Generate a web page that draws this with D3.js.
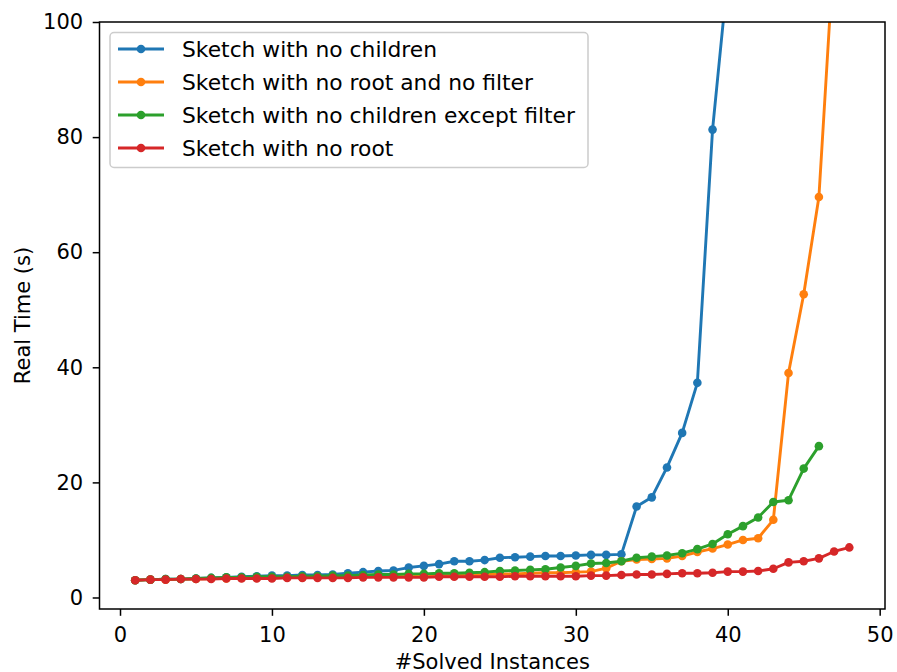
<!DOCTYPE html>
<html>
<head>
<meta charset="utf-8">
<script src="https://cdn.jsdelivr.net/npm/d3@7"></script>
<style>
  body { margin: 0; background: #fff; }
  svg { font-family: "DejaVu Sans", sans-serif; }
</style>
</head>
<body>
<div id="chart"></div>
<script>
// solved instance index (x) for each series
const noChildren = [3.0, 3.1, 3.2, 3.2, 3.3, 3.4, 3.5, 3.6, 3.7, 3.8, 3.8, 3.9, 3.9, 4.0, 4.2, 4.4, 4.6, 4.7, 5.2, 5.5,
  5.8, 6.3, 6.3, 6.5, 6.9, 7.0, 7.1, 7.2, 7.2, 7.3, 7.4, 7.4, 7.5, 15.8, 17.4, 22.6, 28.6, 37.3, 81.3, 108];
const noRootNoFilter = [3.0, 3.1, 3.1, 3.2, 3.2, 3.3, 3.3, 3.4, 3.4, 3.5, 3.5, 3.5, 3.6, 3.6, 3.6, 3.7, 3.7, 3.8, 3.8, 3.8,
  3.9, 3.9, 4.0, 4.0, 4.1, 4.1, 4.2, 4.3, 4.3, 4.4, 4.5, 5.1, 6.3, 6.6, 6.7, 6.8, 7.2, 7.9, 8.5, 9.2,
  10.0, 10.3, 13.5, 39.0, 52.7, 69.6, 113];
const noChildrenExceptFilter = [3.0, 3.1, 3.2, 3.2, 3.3, 3.4, 3.5, 3.5, 3.6, 3.6, 3.6, 3.7, 3.7, 3.8, 3.8, 3.9, 4.0, 4.0, 4.1, 4.1,
  4.2, 4.2, 4.3, 4.4, 4.6, 4.7, 4.8, 4.9, 5.2, 5.5, 5.9, 6.0, 6.3, 6.9, 7.1, 7.3, 7.7, 8.4, 9.3, 11.0,
  12.4, 13.9, 16.6, 16.9, 22.4, 26.3];
const noRoot = [3.0, 3.1, 3.1, 3.2, 3.2, 3.2, 3.3, 3.3, 3.3, 3.3, 3.4, 3.4, 3.4, 3.4, 3.4, 3.5, 3.5, 3.5, 3.5, 3.5,
  3.6, 3.6, 3.6, 3.6, 3.6, 3.7, 3.7, 3.7, 3.7, 3.7, 3.8, 3.8, 3.9, 4.0, 4.0, 4.1, 4.2, 4.2, 4.3, 4.5,
  4.5, 4.6, 5.0, 6.1, 6.3, 6.8, 8.0, 8.7];

const seriesNames = ["Sketch with no children", "Sketch with no root and no filter",
  "Sketch with no children except filter", "Sketch with no root"];
const seriesValues = [noChildren, noRootNoFilter, noChildrenExceptFilter, noRoot];
const colors = ["#1f77b4", "#ff7f0e", "#2ca02c", "#d62728"];
const xTicks = [0, 10, 20, 30, 40, 50];
const yTicks = [0, 20, 40, 60, 80, 100];

const width = 897, height = 672;
const margin = { top: 22, right: 12, bottom: 63, left: 99.5 };
const fs = 21;
const legendFs = 21.8;

const svg = d3.select("#chart").append("svg")
  .attr("width", width)
  .attr("height", height);

const x = d3.scaleLinear().domain([-1.35, 50.35]).range([margin.left, width - margin.right]);
const y = d3.scaleLinear().domain([-2.0, 100]).range([height - margin.bottom, margin.top]);

svg.append("defs").append("clipPath").attr("id", "plot-clip")
  .append("rect")
  .attr("x", margin.left).attr("y", margin.top)
  .attr("width", x.range()[1] - margin.left)
  .attr("height", y.range()[0] - margin.top);

// axes
const xAxis = svg.append("g")
  .attr("transform", `translate(0,${y.range()[0]})`)
  .call(d3.axisBottom(x).tickValues(xTicks).tickSize(6.8).tickPadding(11).tickFormat(d3.format("d")));
const yAxis = svg.append("g")
  .attr("transform", `translate(${margin.left},0)`)
  .call(d3.axisLeft(y).tickValues(yTicks).tickSize(6.8).tickPadding(9.5).tickFormat(d3.format("d")));

[xAxis, yAxis].forEach(a => {
  a.select(".domain").remove();
  a.selectAll(".tick line").attr("stroke", "#000").attr("stroke-width", 1.5);
  a.selectAll(".tick text").attr("font-size", fs).attr("fill", "#000")
    .attr("font-family", "DejaVu Sans, sans-serif");
});

const plot = svg.append("g").attr("clip-path", "url(#plot-clip)");

const line = d3.line()
  .x((d, i) => x(i + 1))
  .y(d => y(d));

seriesValues.forEach((vals, k) => {
  plot.append("path")
    .datum(vals)
    .attr("fill", "none")
    .attr("stroke", colors[k])
    .attr("stroke-width", 2.9)
    .attr("stroke-linejoin", "round")
    .attr("stroke-linecap", "square")
    .attr("d", line);
  plot.selectAll(null)
    .data(vals)
    .enter().append("circle")
    .attr("cx", (d, i) => x(i + 1))
    .attr("cy", d => y(d))
    .attr("r", 4.3)
    .attr("fill", colors[k]);
});

// frame
svg.append("rect")
  .attr("x", margin.left).attr("y", margin.top)
  .attr("width", x.range()[1] - margin.left)
  .attr("height", y.range()[0] - margin.top)
  .attr("fill", "none")
  .attr("stroke", "#000")
  .attr("stroke-width", 1.5);

// axis labels
svg.append("text")
  .attr("x", (margin.left + x.range()[1]) / 2)
  .attr("y", 669)
  .attr("text-anchor", "middle")
  .attr("font-size", fs)
  .text("#Solved Instances");
svg.append("text")
  .attr("transform", `translate(30,${(margin.top + y.range()[0]) / 2}) rotate(-90)`)
  .attr("text-anchor", "middle")
  .attr("font-size", fs)
  .text("Real Time (s)");

// legend
const legend = svg.append("g");
legend.append("rect")
  .attr("x", 110).attr("y", 32.5)
  .attr("width", 478).attr("height", 135)
  .attr("rx", 4)
  .attr("fill", "#fff").attr("fill-opacity", 0.8)
  .attr("stroke", "#ccc").attr("stroke-width", 1.5);
seriesNames.forEach((name, k) => {
  const cy = 49 + k * 33;
  legend.append("line")
    .attr("x1", 118).attr("x2", 164)
    .attr("y1", cy).attr("y2", cy)
    .attr("stroke", colors[k]).attr("stroke-width", 2.9);
  legend.append("circle")
    .attr("cx", 141).attr("cy", cy).attr("r", 4.3)
    .attr("fill", colors[k]);
  legend.append("text")
    .attr("x", 182).attr("y", cy)
    .attr("dy", "0.36em")
    .attr("font-size", legendFs)
    .text(name);
});
</script>
</body>
</html>
